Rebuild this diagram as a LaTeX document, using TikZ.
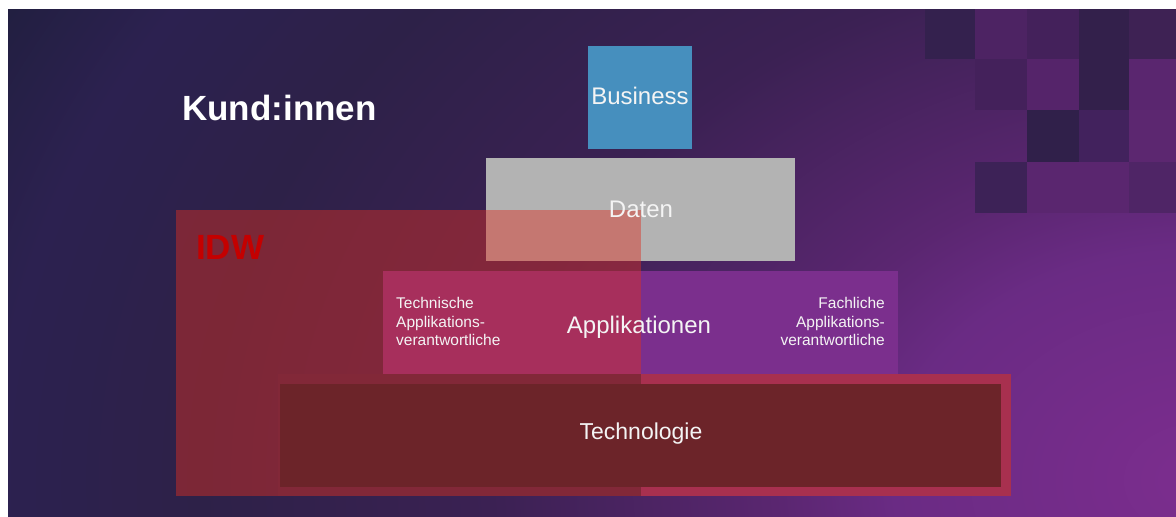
\documentclass[tikz,border=0pt]{standalone}
\usepackage{fontspec}
\setmainfont{Liberation Sans}
\usetikzlibrary{shadings}
\definecolor{bgc0}{HTML}{7C2D8E}
\definecolor{bgc1}{HTML}{6A2B84}
\definecolor{bgc2}{HTML}{5A2670}
\definecolor{bgc3}{HTML}{3B2153}
\definecolor{bgc4}{HTML}{2D2148}
\definecolor{bgc5}{HTML}{2C2150}
\definecolor{bgc6}{HTML}{1E1E3B}
\pgfdeclareradialshading{bgrad}{\pgfpoint{0bp}{0bp}}{color(0bp)=(bgc0); color(4.1bp)=(bgc1); color(5.7bp)=(bgc2); color(9.5bp)=(bgc3); color(13.4bp)=(bgc4); color(16.1bp)=(bgc5); color(18.75bp)=(bgc6); color(50bp)=(bgc6)}
\definecolor{busblue}{HTML}{468FBE}
\definecolor{datagray}{HTML}{B3B3B3}
\definecolor{applpurple}{HTML}{7B2F8D}
\definecolor{idwred}{HTML}{DD3022}
\definecolor{idwtext}{HTML}{C40000}
\definecolor{techframe}{HTML}{A8304F}
\definecolor{techframein}{HTML}{822838}
\definecolor{techdark}{HTML}{6C2429}
\definecolor{sqA}{HTML}{34214E}
\definecolor{sqB}{HTML}{4D2363}
\definecolor{sqC}{HTML}{44215B}
\definecolor{sqD}{HTML}{33204B}
\definecolor{sqE}{HTML}{3E2254}
\definecolor{sqF}{HTML}{55246A}
\definecolor{sqG}{HTML}{5A266F}
\definecolor{sqH}{HTML}{30204A}
\definecolor{sqI}{HTML}{42225D}
\definecolor{sqJ}{HTML}{5C2770}
\definecolor{sqK}{HTML}{3D2257}
\definecolor{sqL}{HTML}{4F2566}
\definecolor{txtwhite}{HTML}{F4F4F4}
\begin{document}
\begin{tikzpicture}[x=1pt,y=-1pt,
  layerbox/.style={rectangle, draw=none, inner sep=0pt, outer sep=0pt, anchor=north west},
  biglabel/.style={text=txtwhite, font=\fontsize{24}{28}\selectfont, inner sep=0pt, anchor=base},
  smalllabel/.style={text=txtwhite, font=\fontsize{15.5}{18.6}\selectfont, inner sep=0pt},
  titlelabel/.style={font=\fontsize{35}{40}\selectfont\bfseries, inner sep=0pt, anchor=base west}]
\useasboundingbox (0,0) rectangle (1176,517);
\fill[white] (0,0) rectangle (1176,517);
\begin{scope}
\clip (8,9) rectangle (1176,517);
\shade[shading=bgrad] (-667,-920) rectangle (3067,1880);
\end{scope}
% decorative squares
\fill[sqA] (925,9) rectangle (975,59);
\fill[sqB] (975,9) rectangle (1027,59);
\fill[sqC] (1027,9) rectangle (1079,59);
\fill[sqD] (1079,9) rectangle (1129,59);
\fill[sqE] (1129,9) rectangle (1176,59);
\fill[sqC] (975,59) rectangle (1027,110);
\fill[sqF] (1027,59) rectangle (1079,110);
\fill[sqD] (1079,59) rectangle (1129,110);
\fill[sqG] (1129,59) rectangle (1176,110);
\fill[sqH] (1027,110) rectangle (1079,162);
\fill[sqI] (1079,110) rectangle (1129,162);
\fill[sqJ] (1129,110) rectangle (1176,162);
\fill[sqK] (975,162) rectangle (1027,213);
\fill[sqG] (1027,162) rectangle (1129,213);
\fill[sqL] (1129,162) rectangle (1176,213);
% layers
\node[layerbox, fill=busblue, minimum width=104pt, minimum height=103pt] (business) at (588,46) {};
\node[layerbox, fill=datagray, minimum width=309pt, minimum height=103pt] (daten) at (486,158) {};
\node[layerbox, fill=applpurple, minimum width=515pt, minimum height=103pt] (appl) at (383,271) {};
\node[layerbox, fill=idwred, fill opacity=0.45, minimum width=465pt, minimum height=286pt] (idw) at (176,210) {};
\node[layerbox, fill=techframein, minimum width=363pt, minimum height=122pt] (techframeL) at (278,374) {};
\node[layerbox, fill=techframe, minimum width=370pt, minimum height=122pt] (techframeR) at (641,374) {};
\node[layerbox, fill=techdark, minimum width=721pt, minimum height=103pt] (tech) at (280,384) {};
% labels
\node[titlelabel, text=white] (kund) at (182,120) {Kund:innen};
\node[titlelabel, text=idwtext] (idwlabel) at (196,259) {IDW};
\node[biglabel] (businesslabel) at (640,104) {Business};
\node[biglabel] (datenlabel) at (641,217) {Daten};
\node[biglabel] (appllabel) at (639,333) {Applikationen};
\node[biglabel, font=\fontsize{23}{27}\selectfont] (techlabel) at (641,439) {Technologie};
\node[smalllabel, align=left, anchor=west] (techresp) at (396,321.5) {Technische\\Applikations-\\verantwortliche};
\node[smalllabel, align=right, anchor=east] (fachresp) at (885,321.5) {Fachliche\\Applikations-\\verantwortliche};
\end{tikzpicture}
\end{document}
